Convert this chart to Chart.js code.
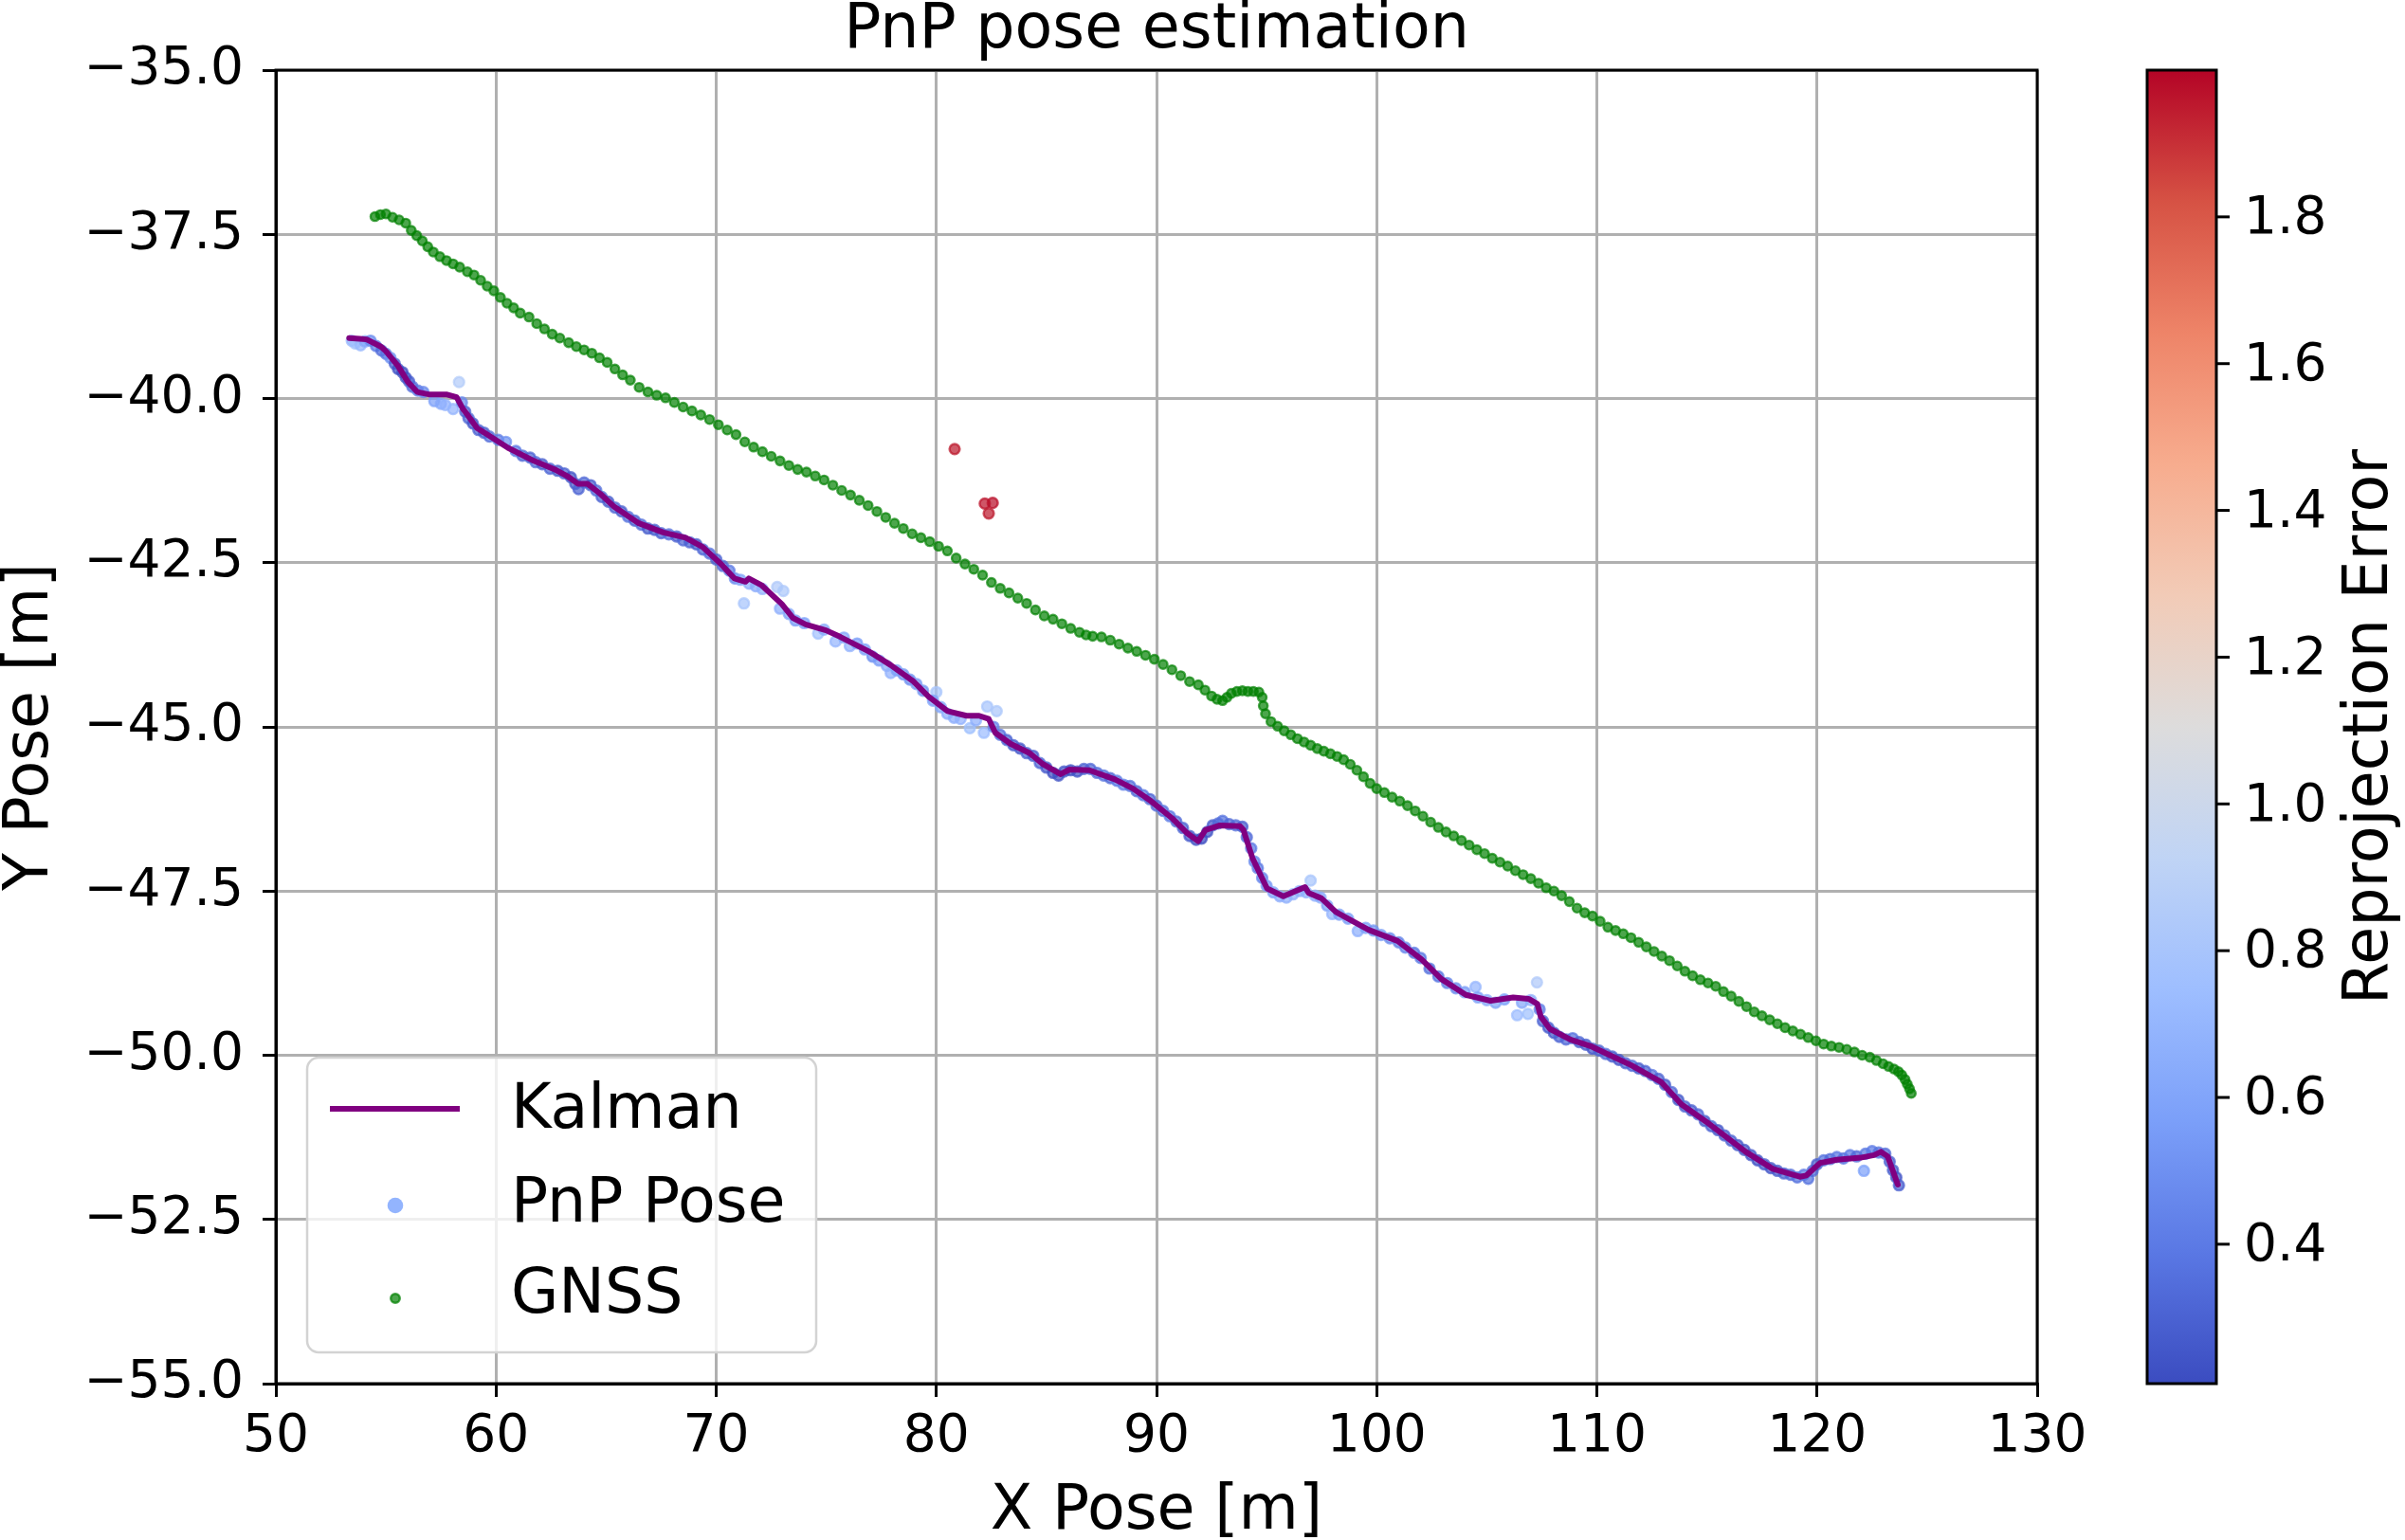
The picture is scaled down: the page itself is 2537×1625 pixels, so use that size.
<!DOCTYPE html>
<html>
<head>
<meta charset="utf-8">
<title>PnP pose estimation</title>
<script src="https://cdn.jsdelivr.net/npm/chart.js@4.4.1/dist/chart.umd.min.js"></script>
<style>
html, body { margin: 0; padding: 0; background: #fff; overflow: hidden; }
#wrap { width: 2537px; height: 1625px; position: relative; }
</style>
</head>
<body>
<div id="wrap"><canvas id="chart"></canvas></div>
<script>
// values: [x, y] in metres
const kalmanPts = [
    [53.33,-39.08],[53.81,-39.09],[54.12,-39.10],[54.77,-39.21],[55.00,-39.28],[55.54,-39.50],[56.00,-39.75],
    [56.42,-39.90],[56.99,-39.94],[57.78,-39.94],[58.21,-39.98],[58.50,-40.16],[58.64,-40.22],[59.14,-40.45],
    [59.57,-40.54],[60.54,-40.75],[61.72,-40.95],[62.73,-41.09],[63.23,-41.18],[63.73,-41.30],[64.16,-41.30],
    [64.73,-41.45],[65.34,-41.64],[66.49,-41.90],[67.60,-42.04],[68.61,-42.12],[69.38,-42.26],[70.19,-42.51],
    [70.83,-42.74],[71.33,-42.79],[71.48,-42.74],[72.05,-42.84],[72.98,-43.13],[73.48,-43.34],[74.06,-43.44],
    [74.99,-43.53],[75.64,-43.63],[76.93,-43.85],[77.93,-44.06],[78.93,-44.30],[79.65,-44.54],[80.51,-44.76],
    [81.37,-44.83],[81.94,-44.83],[82.38,-44.88],[82.68,-45.09],[83.38,-45.26],[84.24,-45.40],[84.81,-45.56],
    [85.64,-45.72],[86.05,-45.65],[86.95,-45.66],[88.11,-45.80],[88.93,-45.94],[89.75,-46.13],[90.74,-46.40],
    [91.40,-46.62],[91.89,-46.74],[92.22,-46.57],[92.88,-46.50],[93.79,-46.51],[93.95,-46.57],[94.36,-47.00],
    [95.02,-47.46],[95.76,-47.58],[96.75,-47.44],[96.91,-47.53],[97.49,-47.61],[98.15,-47.82],[99.63,-48.09],
    [100.95,-48.26],[102.04,-48.54],[102.94,-48.84],[104.05,-49.08],[105.17,-49.17],[106.20,-49.12],[106.90,-49.14],
    [107.30,-49.22],[107.45,-49.41],[107.87,-49.60],[108.79,-49.76],[109.71,-49.86],[110.78,-50.03],[111.55,-50.15],
    [112.93,-50.41],[113.85,-50.75],[115.08,-51.04],[116.76,-51.47],[117.99,-51.73],[119.22,-51.85],[119.52,-51.83],
    [120.14,-51.64],[120.90,-51.59],[121.98,-51.56],[122.59,-51.52],[122.90,-51.47],[123.21,-51.54],[123.67,-51.97]
];

// [x, y, reprojection error]
const pnpPts = [
    [53.45,-39.12,0.70],[53.60,-39.16,0.76],[53.85,-39.19,0.72],[54.05,-39.13,0.62],[54.30,-39.12,0.48],[54.55,-39.20,0.40],
    [54.80,-39.27,0.34],[55.00,-39.32,0.38],[55.20,-39.38,0.50],[55.40,-39.47,0.30],[55.55,-39.55,0.24],[55.75,-39.60,0.22],
    [55.90,-39.68,0.24],[56.05,-39.74,0.28],[56.20,-39.82,0.34],[56.45,-39.88,0.40],[56.70,-39.90,0.46],[57.20,-40.04,0.58],
    [57.50,-40.08,0.62],[57.70,-40.10,0.68],[58.05,-40.16,0.70],[58.32,-39.75,0.86],[58.45,-40.06,0.48],[58.60,-40.20,0.32],
    [58.75,-40.30,0.32],[58.95,-40.38,0.26],[59.20,-40.48,0.30],[59.45,-40.52,0.28],[59.70,-40.58,0.34],[60.10,-40.63,0.40],
    [60.45,-40.66,0.50],[60.90,-40.80,0.40],[61.20,-40.87,0.32],[61.55,-40.90,0.30],[61.80,-40.97,0.34],[62.10,-41.00,0.28],
    [62.45,-41.07,0.32],[62.80,-41.10,0.27],[63.10,-41.14,0.30],[63.40,-41.20,0.25],[63.60,-41.30,0.27],[63.75,-41.38,0.30],
    [64.00,-41.28,0.32],[64.30,-41.32,0.28],[64.55,-41.40,0.34],[64.80,-41.50,0.30],[65.10,-41.57,0.27],[65.40,-41.66,0.32],
    [65.70,-41.72,0.28],[66.00,-41.80,0.36],[66.30,-41.86,0.30],[66.60,-41.92,0.34],[66.90,-41.98,0.27],[67.20,-42.00,0.28],
    [67.50,-42.05,0.30],[67.85,-42.07,0.35],[68.20,-42.10,0.28],[68.50,-42.16,0.32],[68.80,-42.19,0.30],[69.10,-42.22,0.27],
    [69.40,-42.30,0.32],[69.70,-42.36,0.35],[70.00,-42.45,0.30],[70.30,-42.55,0.33],[70.60,-42.62,0.40],[70.85,-42.74,0.48],
    [71.10,-42.76,0.60],[71.26,-43.12,0.80],[71.50,-42.82,0.66],[71.80,-42.86,0.64],[72.10,-42.90,0.68],[72.77,-42.87,0.84],
    [73.05,-42.93,0.82],[72.90,-43.20,0.66],[73.30,-43.28,0.60],[73.60,-43.38,0.55],[74.00,-43.42,0.58],[74.63,-43.58,0.78],
    [74.90,-43.52,0.64],[75.42,-43.70,0.70],[75.80,-43.64,0.62],[76.07,-43.77,0.68],[76.40,-43.73,0.56],[76.75,-43.82,0.58],
    [77.10,-43.93,0.50],[77.40,-43.99,0.55],[77.75,-44.07,0.64],[77.93,-44.18,0.68],[78.20,-44.14,0.58],[78.50,-44.20,0.52],
    [78.80,-44.28,0.50],[79.10,-44.35,0.55],[79.40,-44.45,0.52],[80.00,-44.47,0.80],[79.85,-44.60,0.58],[80.20,-44.70,0.60],
    [80.50,-44.80,0.66],[80.80,-44.86,0.64],[81.10,-44.88,0.68],[81.52,-45.02,0.76],[81.80,-44.90,0.66],[82.16,-45.09,0.74],
    [82.31,-44.69,0.80],[82.74,-44.76,0.82],[82.60,-45.00,0.46],[82.90,-45.12,0.36],[83.20,-45.20,0.30],[83.50,-45.28,0.28],
    [83.80,-45.33,0.26],[84.10,-45.40,0.30],[84.40,-45.44,0.28],[84.70,-45.55,0.32],[85.00,-45.62,0.26],[85.30,-45.70,0.22],
    [85.55,-45.74,0.23],[85.80,-45.68,0.25],[86.10,-45.66,0.23],[86.40,-45.68,0.24],[86.70,-45.64,0.30],[87.00,-45.64,0.32],
    [87.30,-45.70,0.34],[87.60,-45.74,0.36],[87.90,-45.78,0.32],[88.20,-45.82,0.40],[88.50,-45.88,0.42],[88.80,-45.90,0.36],
    [89.10,-45.98,0.33],[89.40,-46.04,0.38],[89.70,-46.10,0.32],[90.00,-46.20,0.33],[90.30,-46.28,0.36],[90.60,-46.36,0.40],
    [90.90,-46.44,0.33],[91.20,-46.54,0.30],[91.50,-46.66,0.26],[91.80,-46.72,0.23],[92.05,-46.70,0.22],[92.30,-46.60,0.24],
    [92.55,-46.50,0.28],[92.80,-46.47,0.33],[93.00,-46.43,0.36],[93.30,-46.48,0.32],[93.60,-46.50,0.34],[93.90,-46.52,0.28],
    [94.10,-46.68,0.33],[94.30,-46.85,0.40],[94.45,-47.05,0.46],[94.60,-47.15,0.40],[94.80,-47.30,0.46],[95.00,-47.42,0.54],
    [95.30,-47.52,0.60],[95.60,-47.58,0.64],[95.90,-47.60,0.66],[96.20,-47.55,0.68],[96.50,-47.50,0.66],[96.80,-47.52,0.68],
    [97.00,-47.34,0.80],[97.20,-47.57,0.66],[97.45,-47.60,0.64],[97.75,-47.72,0.58],[97.98,-47.85,0.70],[98.30,-47.86,0.56],
    [98.70,-47.92,0.58],[99.14,-48.11,0.66],[99.50,-48.06,0.58],[99.85,-48.10,0.52],[100.20,-48.17,0.55],[100.60,-48.22,0.48],
    [101.00,-48.28,0.42],[101.30,-48.36,0.46],[101.70,-48.44,0.38],[102.00,-48.52,0.40],[102.40,-48.68,0.36],[102.80,-48.80,0.38],
    [103.20,-48.90,0.42],[103.60,-48.98,0.48],[104.00,-49.04,0.55],[104.49,-48.96,0.70],[104.60,-49.12,0.58],[105.00,-49.16,0.64],
    [105.40,-49.20,0.60],[105.80,-49.15,0.58],[106.38,-49.39,0.74],[106.60,-49.20,0.62],[106.87,-49.37,0.76],[107.00,-49.16,0.66],
    [107.28,-48.89,0.84],[107.40,-49.30,0.42],[107.55,-49.48,0.30],[107.80,-49.58,0.28],[108.05,-49.66,0.26],[108.30,-49.72,0.30],
    [108.60,-49.76,0.33],[108.90,-49.74,0.36],[109.20,-49.80,0.30],[109.50,-49.84,0.28],[109.80,-49.90,0.26],[110.10,-49.93,0.30],
    [110.40,-49.98,0.33],[110.70,-50.02,0.28],[111.00,-50.07,0.26],[111.30,-50.12,0.30],[111.60,-50.16,0.33],[111.90,-50.20,0.27],
    [112.20,-50.24,0.30],[112.50,-50.30,0.36],[112.80,-50.36,0.30],[113.10,-50.45,0.28],[113.40,-50.56,0.33],[113.70,-50.68,0.27],
    [114.00,-50.78,0.30],[114.30,-50.84,0.28],[114.60,-50.90,0.33],[114.90,-51.00,0.27],[115.20,-51.08,0.30],[115.50,-51.14,0.26],
    [115.80,-51.22,0.28],[116.10,-51.30,0.30],[116.40,-51.37,0.27],[116.70,-51.44,0.24],[117.00,-51.52,0.26],[117.30,-51.60,0.24],
    [117.60,-51.66,0.27],[117.90,-51.72,0.25],[118.20,-51.76,0.27],[118.50,-51.80,0.30],[118.80,-51.82,0.33],[119.10,-51.86,0.36],
    [119.40,-51.82,0.40],[119.60,-51.88,0.36],[119.80,-51.76,0.33],[120.00,-51.66,0.28],[120.30,-51.60,0.36],[120.60,-51.58,0.33],
    [120.90,-51.55,0.40],[121.20,-51.57,0.36],[121.50,-51.52,0.40],[121.80,-51.54,0.33],[122.13,-51.76,0.58],[122.20,-51.50,0.38],
    [122.50,-51.46,0.40],[122.80,-51.48,0.36],[123.10,-51.50,0.33],[123.30,-51.62,0.30],[123.45,-51.75,0.27],[123.60,-51.86,0.25],
    [123.72,-51.98,0.28],
    [80.83,-40.77,1.95],[82.20,-41.60,1.96],[82.56,-41.59,1.97],[82.38,-41.75,1.95]
];

const gnssPts = [
    [54.50,-37.23],[54.75,-37.20],[55.00,-37.19],[55.30,-37.24],[55.60,-37.28],[55.90,-37.33],[56.15,-37.44],[56.40,-37.52],
    [56.65,-37.60],[56.90,-37.69],[57.15,-37.77],[57.45,-37.84],[57.75,-37.90],[58.05,-37.95],[58.35,-38.00],[58.70,-38.07],
    [59.00,-38.12],[59.30,-38.20],[59.60,-38.29],[59.90,-38.36],[60.20,-38.46],[60.50,-38.55],[60.80,-38.62],[61.10,-38.70],
    [61.50,-38.76],[61.85,-38.86],[62.20,-38.94],[62.55,-39.02],[62.90,-39.08],[63.30,-39.15],[63.65,-39.21],[64.00,-39.26],
    [64.35,-39.31],[64.70,-39.38],[65.05,-39.45],[65.40,-39.55],[65.75,-39.64],[66.10,-39.72],[66.50,-39.83],[66.90,-39.90],
    [67.30,-39.95],[67.70,-39.99],[68.10,-40.06],[68.50,-40.13],[68.90,-40.19],[69.30,-40.25],[69.70,-40.32],[70.10,-40.40],
    [70.50,-40.48],[70.90,-40.55],[71.30,-40.66],[71.70,-40.74],[72.10,-40.81],[72.50,-40.88],[72.90,-40.95],[73.30,-41.02],
    [73.70,-41.08],[74.10,-41.12],[74.50,-41.18],[74.90,-41.24],[75.30,-41.32],[75.70,-41.40],[76.10,-41.47],[76.50,-41.55],
    [76.90,-41.63],[77.30,-41.72],[77.70,-41.81],[78.10,-41.90],[78.50,-41.98],[78.90,-42.06],[79.30,-42.12],[79.70,-42.18],
    [80.10,-42.25],[80.50,-42.32],[80.90,-42.43],[81.30,-42.52],[81.70,-42.60],[82.10,-42.69],[82.50,-42.80],[82.90,-42.89],
    [83.30,-42.96],[83.70,-43.04],[84.10,-43.12],[84.50,-43.22],[84.90,-43.31],[85.30,-43.36],[85.70,-43.43],[86.10,-43.50],
    [86.50,-43.56],[86.80,-43.60],[87.10,-43.62],[87.50,-43.63],[87.90,-43.68],[88.30,-43.74],[88.70,-43.80],[89.10,-43.85],
    [89.50,-43.91],[89.90,-43.97],[90.30,-44.05],[90.70,-44.13],[91.10,-44.22],[91.50,-44.31],[91.90,-44.36],[92.20,-44.44],
    [92.50,-44.53],[92.75,-44.58],[93.00,-44.60],[93.20,-44.55],[93.40,-44.49],[93.65,-44.46],[93.90,-44.45],[94.15,-44.46],
    [94.40,-44.46],[94.65,-44.47],[94.80,-44.55],[94.85,-44.68],[94.95,-44.80],[95.20,-44.92],[95.50,-44.99],[95.80,-45.06],
    [96.10,-45.12],[96.40,-45.18],[96.70,-45.23],[97.00,-45.28],[97.30,-45.33],[97.60,-45.37],[97.90,-45.41],[98.20,-45.45],
    [98.50,-45.50],[98.80,-45.57],[99.10,-45.66],[99.40,-45.76],[99.70,-45.86],[100.00,-45.94],[100.35,-46.00],[100.70,-46.07],
    [101.05,-46.13],[101.40,-46.20],[101.75,-46.28],[102.10,-46.36],[102.45,-46.45],[102.80,-46.53],[103.15,-46.60],[103.50,-46.66],
    [103.85,-46.73],[104.20,-46.80],[104.55,-46.87],[104.90,-46.93],[105.25,-47.00],[105.60,-47.06],[105.95,-47.12],[106.30,-47.19],
    [106.65,-47.25],[107.00,-47.31],[107.35,-47.38],[107.70,-47.45],[108.05,-47.50],[108.40,-47.57],[108.75,-47.66],[109.10,-47.76],
    [109.45,-47.83],[109.80,-47.88],[110.15,-47.96],[110.50,-48.05],[110.85,-48.10],[111.20,-48.15],[111.55,-48.21],[111.90,-48.28],
    [112.25,-48.35],[112.60,-48.42],[112.95,-48.49],[113.30,-48.56],[113.65,-48.64],[114.00,-48.72],[114.35,-48.79],[114.70,-48.85],
    [115.05,-48.90],[115.40,-48.95],[115.75,-49.03],[116.10,-49.10],[116.45,-49.18],[116.80,-49.26],[117.15,-49.34],[117.50,-49.40],
    [117.85,-49.46],[118.20,-49.52],[118.55,-49.58],[118.90,-49.63],[119.25,-49.68],[119.60,-49.73],[119.95,-49.78],[120.30,-49.83],
    [120.65,-49.86],[121.00,-49.88],[121.35,-49.91],[121.70,-49.95],[122.05,-50.00],[122.40,-50.03],[122.70,-50.08],[123.00,-50.13],
    [123.25,-50.17],[123.50,-50.21],[123.70,-50.25],[123.85,-50.30],[124.00,-50.37],[124.10,-50.44],[124.20,-50.51],[124.28,-50.58]
];

const xTicks = [50, 60, 70, 80, 90, 100, 110, 120, 130];
const yTicks = [-55, -52.5, -50, -47.5, -45, -42.5, -40, -37.5, -35];
const cbTicks = [0.4, 0.6, 0.8, 1.0, 1.2, 1.4, 1.6, 1.8];
const cbMin = 0.21;
const cbMax = 2.0;

// coolwarm colormap samples, 0 -> 1
const coolwarm = [
    [59,76,192],[90,120,228],[123,159,249],[158,190,255],[192,212,245],[221,220,220],
    [242,203,183],[247,172,142],[238,132,104],[214,82,68],[180,4,38]
];

const FONT = '"DejaVu Sans", "Liberation Sans", sans-serif';

function cmap(v) {
    let t = (v - cbMin) / (cbMax - cbMin);
    t = Math.max(0, Math.min(1, t));
    let f = t * (coolwarm.length - 1);
    let i = Math.min(Math.floor(f), coolwarm.length - 2);
    let u = f - i;
    let a = coolwarm[i], b = coolwarm[i + 1];
    return [0, 1, 2].map(k => Math.round(a[k] + (b[k] - a[k]) * u));
}

const minus = (v) => (v < 0 ? '\u2212' : '') + Math.abs(v).toFixed(1);

function pnpColor(c) {
    let p = pnpPts[c.dataIndex];
    if (!p) return 'rgba(0,0,0,0)';
    return 'rgba(' + cmap(p[2]).join(',') + ',0.72)';
}

// spines, title, axis labels, legend and colorbar
const decor = {
    id: 'decor',
    afterDraw(chart) {
        const ctx = chart.ctx;
        const a = chart.chartArea;
        const cx = (a.left + a.right) / 2;
        const cy = (a.top + a.bottom) / 2;
        ctx.save();

        ctx.strokeStyle = '#000';
        ctx.lineWidth = 3;
        ctx.strokeRect(a.left, a.top, a.right - a.left, a.bottom - a.top);

        ctx.fillStyle = '#000';
        ctx.textAlign = 'center';
        ctx.textBaseline = 'middle';
        ctx.font = '65px ' + FONT;
        ctx.fillText('PnP pose estimation', cx, 33);
        ctx.fillText('X Pose [m]', cx, 1596);

        ctx.save();
        ctx.translate(33, cy);
        ctx.rotate(-Math.PI / 2);
        ctx.fillText('Y Pose [m]', 0, 0);
        ctx.restore();

        // legend
        let lx = a.left + 33, ly = a.bottom - 33 - 311, lw = 537, lh = 311, r = 12;
        ctx.beginPath();
        ctx.moveTo(lx + r, ly);
        ctx.lineTo(lx + lw - r, ly);
        ctx.arcTo(lx + lw, ly, lx + lw, ly + r, r);
        ctx.lineTo(lx + lw, ly + lh - r);
        ctx.arcTo(lx + lw, ly + lh, lx + lw - r, ly + lh, r);
        ctx.lineTo(lx + r, ly + lh);
        ctx.arcTo(lx, ly + lh, lx, ly + lh - r, r);
        ctx.lineTo(lx, ly + r);
        ctx.arcTo(lx, ly, lx + r, ly, r);
        ctx.closePath();
        ctx.fillStyle = 'rgba(255,255,255,0.8)';
        ctx.fill();
        ctx.strokeStyle = '#d3d3d3';
        ctx.lineWidth = 2.5;
        ctx.stroke();

        ctx.strokeStyle = '#800080';
        ctx.lineWidth = 6;
        ctx.beginPath();
        ctx.moveTo(lx + 24, ly + 54);
        ctx.lineTo(lx + 161, ly + 54);
        ctx.stroke();

        ctx.fillStyle = 'rgba(141,176,254,0.95)';
        ctx.beginPath();
        ctx.arc(lx + 93, ly + 156, 8.3, 0, Math.PI * 2);
        ctx.fill();

        ctx.fillStyle = 'rgba(0,128,0,0.7)';
        ctx.strokeStyle = 'rgba(0,128,0,0.7)';
        ctx.lineWidth = 2.4;
        ctx.beginPath();
        ctx.arc(lx + 93, ly + 254, 4.8, 0, Math.PI * 2);
        ctx.fill();
        ctx.stroke();

        ctx.fillStyle = '#000';
        ctx.textAlign = 'left';
        ctx.font = '65px ' + FONT;
        ctx.fillText('Kalman', lx + 215, ly + 57);
        ctx.fillText('PnP Pose', lx + 215, ly + 156);
        ctx.fillText('GNSS', lx + 215, ly + 252);

        // colorbar
        let bx = a.right + 116, bw = 73, bt = a.top, bb = a.bottom;
        let grad = ctx.createLinearGradient(0, bb, 0, bt);
        coolwarm.forEach((c, i) => grad.addColorStop(i / (coolwarm.length - 1), 'rgb(' + c.join(',') + ')'));
        ctx.fillStyle = grad;
        ctx.fillRect(bx, bt, bw, bb - bt);
        ctx.strokeStyle = '#000';
        ctx.lineWidth = 3;
        ctx.strokeRect(bx, bt, bw, bb - bt);

        ctx.font = '55px ' + FONT;
        ctx.fillStyle = '#000';
        ctx.textAlign = 'left';
        ctx.textBaseline = 'middle';
        for (const t of cbTicks) {
            let y = bb - (t - cbMin) / (cbMax - cbMin) * (bb - bt);
            ctx.beginPath();
            ctx.moveTo(bx + bw, y);
            ctx.lineTo(bx + bw + 14, y);
            ctx.stroke();
            ctx.fillText(t.toFixed(1), bx + bw + 29, y + 3);
        }

        ctx.font = '65px ' + FONT;
        ctx.textAlign = 'center';
        ctx.save();
        ctx.translate(2501, (bt + bb) / 2);
        ctx.rotate(-Math.PI / 2);
        ctx.fillText('Reprojection Error', 0, 0);
        ctx.restore();

        ctx.restore();
    }
};

function setup() {
    const ctx = document.getElementById('chart');
    new Chart(ctx, {
        type: 'scatter',
        data: {
            datasets: [
                {
                    label: 'Kalman',
                    type: 'line',
                    data: kalmanPts.map(p => ({ x: p[0], y: p[1] })),
                    borderColor: '#800080',
                    borderWidth: 6,
                    pointRadius: 0,
                    tension: 0,
                    borderJoinStyle: 'round',
                    borderCapStyle: 'round',
                    fill: false
                },
                {
                    label: 'PnP Pose',
                    data: pnpPts.map(p => ({ x: p[0], y: p[1] })),
                    pointRadius: 5.4,
                    pointBorderWidth: 2.4,
                    backgroundColor: pnpColor,
                    borderColor: pnpColor
                },
                {
                    label: 'GNSS',
                    data: gnssPts.map(p => ({ x: p[0], y: p[1] })),
                    pointRadius: 4.6,
                    pointBorderWidth: 2.4,
                    backgroundColor: 'rgba(0,128,0,0.7)',
                    borderColor: 'rgba(0,128,0,0.7)'
                }
            ]
        },
        options: {
            responsive: true,
            maintainAspectRatio: false,
            animation: false,
            devicePixelRatio: 1,
            layout: { padding: { left: 0, top: 74, right: 388, bottom: 0 } },
            plugins: {
                legend: { display: false },
                tooltip: { enabled: false },
                title: { display: false }
            },
            scales: {
                x: {
                    type: 'linear',
                    min: xTicks[0],
                    max: xTicks[xTicks.length - 1],
                    afterBuildTicks: (s) => { s.ticks = xTicks.map(v => ({ value: v })); },
                    afterFit: (s) => { s.height = 165; },
                    grid: { color: '#b0b0b0', lineWidth: 3, tickLength: 14, tickColor: '#000', tickWidth: 3 },
                    border: { display: true, color: '#000', width: 3 },
                    ticks: {
                        color: '#000',
                        font: { family: FONT, size: 55 },
                        padding: 10,
                        maxRotation: 0,
                        autoSkip: false,
                        callback: (v) => String(v)
                    }
                },
                y: {
                    type: 'linear',
                    min: yTicks[0],
                    max: yTicks[yTicks.length - 1],
                    afterBuildTicks: (s) => { s.ticks = yTicks.map(v => ({ value: v })); },
                    afterFit: (s) => { s.width = 291; },
                    grid: { color: '#b0b0b0', lineWidth: 3, tickLength: 14, tickColor: '#000', tickWidth: 3 },
                    border: { display: true, color: '#000', width: 3 },
                    ticks: {
                        color: '#000',
                        font: { family: FONT, size: 55 },
                        padding: 20,
                        autoSkip: false,
                        callback: (v) => minus(v)
                    }
                }
            }
        },
        plugins: [decor]
    });
}

window.onload = () => {
    setup();
}
</script>
</body>
</html>
